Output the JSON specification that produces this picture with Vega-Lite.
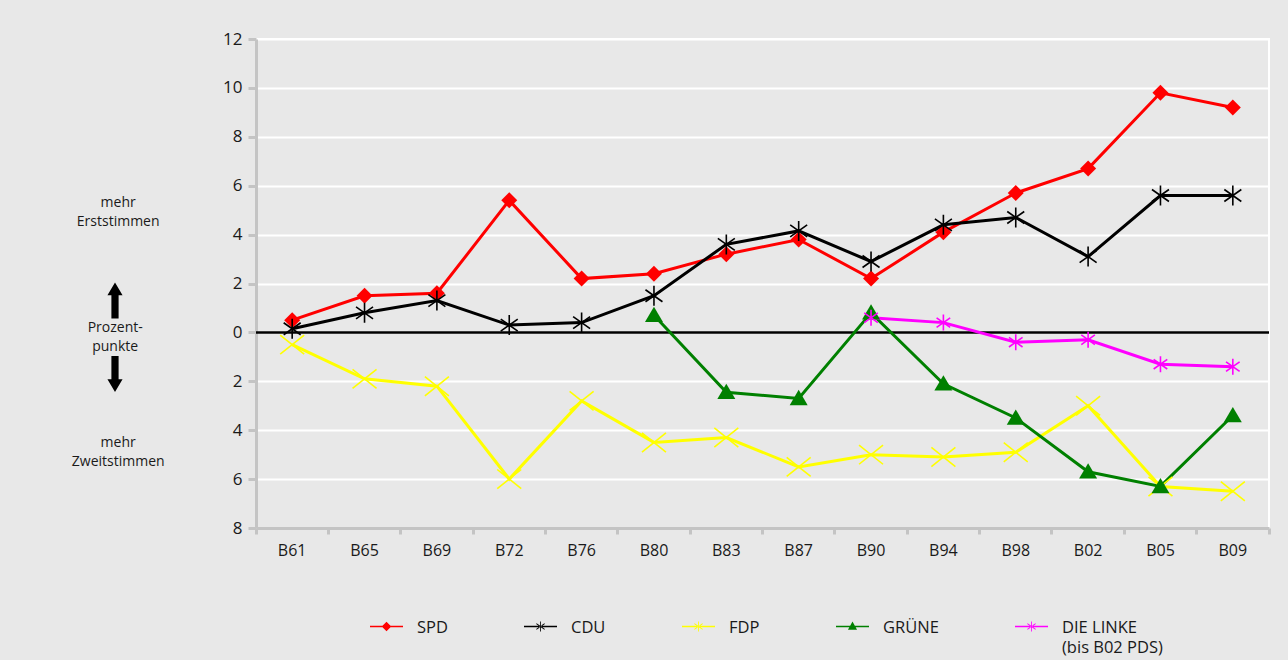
{
  "$schema": "https://vega.github.io/schema/vega-lite/v6.json",
  "width": 1013,
  "height": 489,
  "autosize": "none",
  "padding": {"left": 256, "top": 39, "right": 19, "bottom": 132},
  "background": "#e8e8e8",
  "config": {
    "font": "Open Sans",
    "view": {"stroke": "#ffffff", "strokeWidth": 2}
  },
  "data": {
    "values": [
      {"wahl": "B61", "partei": "SPD", "wert": 0.5},
      {"wahl": "B65", "partei": "SPD", "wert": 1.5},
      {"wahl": "B69", "partei": "SPD", "wert": 1.6},
      {"wahl": "B72", "partei": "SPD", "wert": 5.4},
      {"wahl": "B76", "partei": "SPD", "wert": 2.2},
      {"wahl": "B80", "partei": "SPD", "wert": 2.4},
      {"wahl": "B83", "partei": "SPD", "wert": 3.2},
      {"wahl": "B87", "partei": "SPD", "wert": 3.8},
      {"wahl": "B90", "partei": "SPD", "wert": 2.2},
      {"wahl": "B94", "partei": "SPD", "wert": 4.1},
      {"wahl": "B98", "partei": "SPD", "wert": 5.7},
      {"wahl": "B02", "partei": "SPD", "wert": 6.7},
      {"wahl": "B05", "partei": "SPD", "wert": 9.8},
      {"wahl": "B09", "partei": "SPD", "wert": 9.2},
      {"wahl": "B61", "partei": "CDU", "wert": 0.15},
      {"wahl": "B65", "partei": "CDU", "wert": 0.8},
      {"wahl": "B69", "partei": "CDU", "wert": 1.3},
      {"wahl": "B72", "partei": "CDU", "wert": 0.3},
      {"wahl": "B76", "partei": "CDU", "wert": 0.4},
      {"wahl": "B80", "partei": "CDU", "wert": 1.5},
      {"wahl": "B83", "partei": "CDU", "wert": 3.6},
      {"wahl": "B87", "partei": "CDU", "wert": 4.15},
      {"wahl": "B90", "partei": "CDU", "wert": 2.9},
      {"wahl": "B94", "partei": "CDU", "wert": 4.4},
      {"wahl": "B98", "partei": "CDU", "wert": 4.7},
      {"wahl": "B02", "partei": "CDU", "wert": 3.1},
      {"wahl": "B05", "partei": "CDU", "wert": 5.6},
      {"wahl": "B09", "partei": "CDU", "wert": 5.6},
      {"wahl": "B61", "partei": "FDP", "wert": -0.5},
      {"wahl": "B65", "partei": "FDP", "wert": -1.9},
      {"wahl": "B69", "partei": "FDP", "wert": -2.2},
      {"wahl": "B72", "partei": "FDP", "wert": -6.0},
      {"wahl": "B76", "partei": "FDP", "wert": -2.8},
      {"wahl": "B80", "partei": "FDP", "wert": -4.5},
      {"wahl": "B83", "partei": "FDP", "wert": -4.3},
      {"wahl": "B87", "partei": "FDP", "wert": -5.5},
      {"wahl": "B90", "partei": "FDP", "wert": -5.0},
      {"wahl": "B94", "partei": "FDP", "wert": -5.1},
      {"wahl": "B98", "partei": "FDP", "wert": -4.9},
      {"wahl": "B02", "partei": "FDP", "wert": -3.0},
      {"wahl": "B05", "partei": "FDP", "wert": -6.3},
      {"wahl": "B09", "partei": "FDP", "wert": -6.5},
      {"wahl": "B80", "partei": "GRÜNE", "wert": 0.7},
      {"wahl": "B83", "partei": "GRÜNE", "wert": -2.45},
      {"wahl": "B87", "partei": "GRÜNE", "wert": -2.7},
      {"wahl": "B90", "partei": "GRÜNE", "wert": 0.8},
      {"wahl": "B94", "partei": "GRÜNE", "wert": -2.1},
      {"wahl": "B98", "partei": "GRÜNE", "wert": -3.5},
      {"wahl": "B02", "partei": "GRÜNE", "wert": -5.7},
      {"wahl": "B05", "partei": "GRÜNE", "wert": -6.3},
      {"wahl": "B09", "partei": "GRÜNE", "wert": -3.4},
      {"wahl": "B90", "partei": "DIE LINKE", "wert": 0.6},
      {"wahl": "B94", "partei": "DIE LINKE", "wert": 0.4},
      {"wahl": "B98", "partei": "DIE LINKE", "wert": -0.4},
      {"wahl": "B02", "partei": "DIE LINKE", "wert": -0.3},
      {"wahl": "B05", "partei": "DIE LINKE", "wert": -1.3},
      {"wahl": "B09", "partei": "DIE LINKE", "wert": -1.4}
    ]
  },
  "encoding": {
    "x": {
      "field": "wahl",
      "type": "nominal",
      "scale": {
        "type": "band",
        "domain": ["B61","B65","B69","B72","B76","B80","B83","B87","B90","B94","B98","B02","B05","B09"],
        "paddingInner": 0,
        "paddingOuter": 0
      },
      "axis": {
        "title": null,
        "labelAngle": 0,
        "labelFontSize": 16,
        "labelColor": "#1a1a1a",
        "labelPadding": 8,
        "domainColor": "#c4c4c4",
        "domainWidth": 3,
        "tickColor": "#c4c4c4",
        "tickWidth": 3,
        "tickSize": 6,
        "bandPosition": 1,
        "tickExtra": true,
        "grid": false
      }
    },
    "y": {
      "field": "wert",
      "type": "quantitative",
      "scale": {"domain": [-8, 12], "nice": false, "zero": false},
      "axis": {
        "title": null,
        "values": [-8,-6,-4,-2,0,2,4,6,8,10,12],
        "labelExpr": "abs(datum.value)",
        "labelFontSize": 17,
        "labelColor": "#1a1a1a",
        "labelPadding": 6,
        "domainColor": "#c4c4c4",
        "domainWidth": 3,
        "tickColor": "#c4c4c4",
        "tickWidth": 3,
        "tickSize": 8,
        "grid": true,
        "gridColor": "#ffffff",
        "gridWidth": 2
      }
    }
  },
  "layer": [
    {
      "transform": [{"filter": "datum.wahl == 'B61' && datum.partei == 'SPD'"}],
      "mark": {"type": "rule", "color": "#000000", "strokeWidth": 2.5},
      "encoding": {"y": {"datum": 0}, "x": null}
    },
    {
      "mark": {"type": "line", "strokeWidth": 3},
      "encoding": {
        "color": {
          "field": "partei",
          "type": "nominal",
          "scale": {
            "domain": ["SPD", "CDU", "FDP", "GRÜNE", "DIE LINKE"],
            "range": ["#ff0000", "#000000", "#ffff00", "#008000", "#ff00ff"]
          }
        }
      }
    },
    {
      "transform": [{"filter": "datum.partei == 'SPD'"}],
      "mark": {"type": "point", "filled": true, "opacity": 1, "color": "#ff0000", "size": 256, "shape": "M0,-1L1,0L0,1L-1,0Z"}
    },
    {
      "transform": [{"filter": "datum.partei == 'CDU'"}],
      "mark": {"type": "point", "filled": false, "opacity": 1, "color": "#000000", "strokeWidth": 1.6, "size": 400, "shape": "M0,-1L0,1M-0.85,-0.6L0.85,0.6M-0.85,0.6L0.85,-0.6"}
    },
    {
      "transform": [{"filter": "datum.partei == 'FDP'"}],
      "mark": {"type": "point", "filled": false, "opacity": 1, "color": "#ffff00", "strokeWidth": 1.6, "size": 576, "shape": "M-1,-0.8L1,0.8M-1,0.8L1,-0.8"}
    },
    {
      "transform": [{"filter": "datum.partei == 'GRÜNE'"}],
      "mark": {"type": "point", "filled": true, "opacity": 1, "color": "#008000", "size": 324, "shape": "M0,-0.95L1,0.75L-1,0.75Z"}
    },
    {
      "transform": [{"filter": "datum.partei == 'DIE LINKE'"}],
      "mark": {"type": "point", "filled": false, "opacity": 1, "color": "#ff00ff", "strokeWidth": 1.6, "size": 256, "shape": "M0,-1L0,1M-0.85,-0.6L0.85,0.6M-0.85,0.6L0.85,-0.6"}
    },
    {
      "transform": [{"filter": "datum.wert > 100"}],
      "mark": {"type": "point", "filled": true, "opacity": 1, "size": 272},
      "encoding": {
        "color": {
          "field": "partei",
          "type": "nominal",
          "legend": {
            "title": null,
            "orient": "none",
            "legendX": 122,
            "legendY": 579,
            "direction": "horizontal",
            "columns": 5,
            "columnPadding": 76,
            "symbolSize": 272,
            "symbolStrokeWidth": 0,
            "symbolOpacity": 1,
            "labelOffset": 22,
            "labelFontSize": 16.5,
            "labelColor": "#1a1a1a",
            "labelBaseline": "alphabetic",
            "labelExpr": "datum.label == 'DIE LINKE' ? ['DIE LINKE', '(bis B02 PDS)'] : [datum.label, ' ']",
            "encode": {
              "labels": {"update": {"dy": {"value": 6}, "lineHeight": {"value": 20}}}
            }
          }
        },
        "shape": {
          "field": "partei",
          "type": "nominal",
          "scale": {
            "domain": ["SPD", "CDU", "FDP", "GRÜNE", "DIE LINKE"],
            "range": [
              "M-2,-0.1L2,-0.1L2,0.1L-2,0.1Z M0,-0.58L0.58,0L0,0.58L-0.58,0Z",
              "M-2,-0.1L2,-0.1L2,0.1L-2,0.1Z M-0.05,-0.6L0.05,-0.6L0.05,0.6L-0.05,0.6Z M-0.53,-0.31L-0.47,-0.39L0.53,0.31L0.47,0.39Z M-0.53,0.31L-0.47,0.39L0.53,-0.31L0.47,-0.39Z",
              "M-2,-0.1L2,-0.1L2,0.1L-2,0.1Z M-0.05,-0.6L0.05,-0.6L0.05,0.6L-0.05,0.6Z M-0.53,-0.31L-0.47,-0.39L0.53,0.31L0.47,0.39Z M-0.53,0.31L-0.47,0.39L0.53,-0.31L0.47,-0.39Z",
              "M-2,-0.1L2,-0.1L2,0.1L-2,0.1Z M0,-0.6L0.55,0.38L-0.55,0.38Z",
              "M-2,-0.1L2,-0.1L2,0.1L-2,0.1Z M-0.05,-0.6L0.05,-0.6L0.05,0.6L-0.05,0.6Z M-0.53,-0.31L-0.47,-0.39L0.53,0.31L0.47,0.39Z M-0.53,0.31L-0.47,0.39L0.53,-0.31L0.47,-0.39Z"
            ]
          }
        }
      }
    },
    {
      "transform": [{"filter": "datum.wahl == 'B61' && datum.partei == 'SPD'"}],
      "mark": {"type": "text", "lineBreak": "\n", "align": "center", "baseline": "middle", "fontSize": 14, "lineHeight": 19, "color": "#1a1a1a", "dx": -174},
      "encoding": {"x": {"datum": "B61"}, "y": {"datum": 5.28}, "text": {"value": "mehr\nErststimmen"}}
    },
    {
      "transform": [{"filter": "datum.wahl == 'B61' && datum.partei == 'SPD'"}],
      "mark": {"type": "text", "lineBreak": "\n", "align": "center", "baseline": "middle", "fontSize": 14, "lineHeight": 19, "color": "#1a1a1a", "dx": -177},
      "encoding": {"x": {"datum": "B61"}, "y": {"datum": 0.2}, "text": {"value": "Prozent-\npunkte"}}
    },
    {
      "transform": [{"filter": "datum.wahl == 'B61' && datum.partei == 'SPD'"}],
      "mark": {"type": "text", "lineBreak": "\n", "align": "center", "baseline": "middle", "fontSize": 14, "lineHeight": 19, "color": "#1a1a1a", "dx": -174},
      "encoding": {"x": {"datum": "B61"}, "y": {"datum": -4.54}, "text": {"value": "mehr\nZweitstimmen"}}
    },
    {
      "transform": [{"filter": "datum.wahl == 'B61' && datum.partei == 'SPD'"}],
      "mark": {"type": "point", "filled": true, "color": "#000000", "opacity": 1, "size": 1296, "shape": "M0,-1L0.42,-0.3L0.2,-0.3L0.2,1L-0.2,1L-0.2,-0.3L-0.42,-0.3Z"},
      "encoding": {"x": {"datum": "B61"}, "y": {"datum": 1.3}, "xOffset": {"value": -141}}
    },
    {
      "transform": [{"filter": "datum.wahl == 'B61' && datum.partei == 'SPD'"}],
      "mark": {"type": "point", "filled": true, "color": "#000000", "opacity": 1, "size": 1296, "shape": "M0,1L0.42,0.3L0.2,0.3L0.2,-1L-0.2,-1L-0.2,0.3L-0.42,0.3Z"},
      "encoding": {"x": {"datum": "B61"}, "y": {"datum": -1.7}, "xOffset": {"value": -141}}
    }
  ]
}
